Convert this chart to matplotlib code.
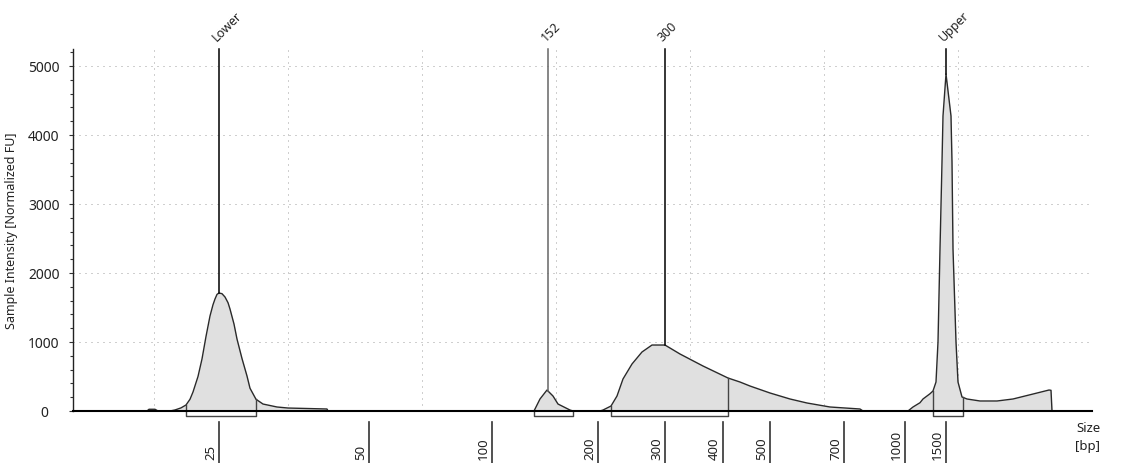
import numpy as np
import matplotlib.pyplot as plt
from matplotlib.ticker import MultipleLocator

plt.rcParams['font.family'] = ['Noto Sans', 'DejaVu Sans']

# trace: run position vs normalized FU
pos = [0, 67, 74, 76, 82, 85, 97, 102, 108, 113, 117, 120, 125, 129, 133, 137, 140, 142, 144, 146,
       149, 152, 155, 157, 161, 164, 169, 174, 177,
       183, 190, 204, 215, 254, 255,
       461, 467, 474, 480, 485, 497, 500,
       527, 530, 538, 544, 550, 559, 569, 579, 592, 607, 630, 655, 667, 677, 697, 717, 734,
       757, 787, 790,
       835, 840, 847, 850, 857, 860, 863, 865, 867, 869, 870, 873, 878, 879, 880, 883, 885,
       889, 894, 907, 924, 940, 960, 976, 978, 979, 1019]
fu = [0, 0, 0, 25, 25, 0, 0, 15, 45, 87, 170, 275, 500, 754, 1080, 1377, 1540, 1623, 1690, 1710,
      1700, 1652, 1570, 1478, 1260, 1043, 760, 507, 330,
      170, 101, 58, 43, 29, 0,
      0, 174, 304, 217, 101, 14, 0,
      0, 14, 72, 217, 464, 681, 855, 956, 956, 826, 652, 478, 420, 362, 261, 174, 116,
      58, 29, 0,
      0, 58, 120, 174, 250, 290, 420, 1000, 2347, 3608, 4275, 4883, 4275, 3608, 2347, 1000, 420,
      203, 174, 145, 145, 174, 246, 304, 300, 0, 0]

# sizing ladder
ladder_bp = ['25', '50', '100', '200', '300', '400', '500', '700', '1000', '1500']
ladder_pos = [146, 296, 419, 525, 592, 650, 697, 771, 832, 873]

# called peaks
peak_names = ['Lower', '152', '300', 'Upper']
peak_pos = [146, 475, 592, 873]

# integration regions (start, end)
regions = [(113, 183), (461, 500), (538, 655), (860, 890)]

grid_x = [81, 215, 349, 483, 617, 751, 885, 1019]

fig = plt.figure(figsize=(11.25, 4.64), dpi=100)
ax = fig.add_axes([73 / 1125, 52 / 464, 1019 / 1125, 362 / 464])

ax.fill_between(pos, fu, 0, color='#e0e0e0', lw=0)
ax.plot(pos, fu, color='#2a2a2a', lw=1)

ax.set_xlim(0, 1019)
ax.set_ylim(0, 5246)

dot = (0, (1, 5))
for gx in grid_x:
    ax.axvline(gx, color='#a0a0a0', lw=0.72, ls=dot, zorder=0)
for gy in range(1000, 5001, 1000):
    ax.axhline(gy, color='#a0a0a0', lw=0.72, ls=dot, zorder=0)

# peak markers
for name, px in zip(peak_names, peak_pos):
    top = np.interp(px, pos, fu)
    c = '#666666' if name == '152' else 'black'
    ax.plot([px, px], [top, 5246], color=c, lw=1.1, clip_on=False, zorder=3)
    ax.annotate(name, xy=(px, 1), xycoords=('data', 'axes fraction'),
                xytext=(-2, 8), textcoords='offset pixels', rotation=45,
                rotation_mode='anchor', ha='left', va='baseline', fontsize=9,
                color='#222222')

# region brackets below the baseline
depth = -72
for x0, x1 in regions:
    y0 = np.interp(x0, pos, fu)
    y1 = np.interp(x1, pos, fu)
    ax.plot([x0, x0, x1, x1], [y0, depth, depth, y1], color='#444444', lw=1,
            clip_on=False, zorder=3)

# ladder ticks and labels
xtr = ax.get_xaxis_transform()
for lab, lx in zip(ladder_bp, ladder_pos):
    ax.plot([lx, lx], [-0.0304, -0.15], color='#333333', lw=1.2, transform=xtr,
            clip_on=False)
    ax.annotate(lab, xy=(lx, -0.1326), xycoords=xtr, xytext=(-2, 0),
                textcoords='offset pixels', rotation=90, ha='right', va='bottom',
                fontsize=9.5, color='#222222')

ax.set_xticks([])
ax.yaxis.set_major_locator(MultipleLocator(1000))
ax.yaxis.set_minor_locator(MultipleLocator(200))
ax.tick_params(axis='y', which='major', length=2.9, width=0.8, pad=18,
               labelsize=10, colors='#333333', labelcolor='#222222')
ax.tick_params(axis='y', which='minor', length=2.2, width=0.8, colors='#333333')
for t in ax.get_yticklabels():
    t.set_horizontalalignment('center')

ax.spines['top'].set_visible(False)
ax.spines['right'].set_visible(False)
ax.spines['left'].set_color('#222222')
ax.spines['left'].set_linewidth(1)
ax.spines['bottom'].set_color('black')
ax.spines['bottom'].set_linewidth(1.5)
ax.spines['bottom'].set_zorder(4)

ax.set_ylabel('Sample Intensity [Normalized FU]', fontsize=9, color='#222222')
ax.yaxis.set_label_coords(-0.054, 0.5)

fig.text(1088 / 1125, 1 - 429 / 464, 'Size', ha='center', va='center', fontsize=9.5,
         color='#222222')
fig.text(1088 / 1125, 1 - 447 / 464, '[bp]', ha='center', va='center', fontsize=9.5,
         color='#222222')

fig.savefig('out.png', dpi=100)
